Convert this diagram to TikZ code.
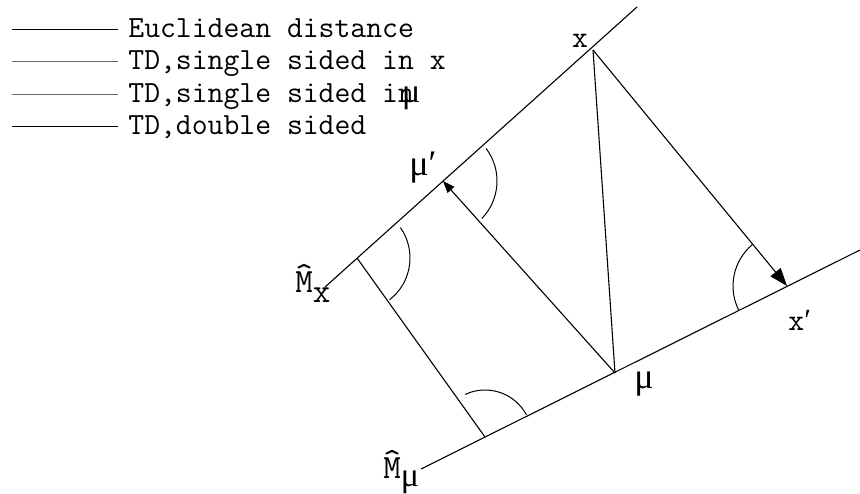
\documentclass[tikz,border=0pt]{standalone}
\usepackage{fontspec}
\newfontfamily\mufont{Liberation Serif}
\usetikzlibrary{arrows.meta, positioning}
\newcommand{\hatM}{\rlap{\raisebox{3.5pt}{\textasciicircum}}M}
\tikzset{
  >=Triangle,
  manifold/.style  = {line width=0.55pt},
  proj/.style      = {line width=0.55pt},
  bigarrow/.style  = {-{Triangle[length=9pt, width=6.5pt]}, line width=0.55pt},
  smallarrow/.style= {-{Triangle[length=6pt, width=4.5pt]}, line width=0.55pt},
  anglearc/.style  = {line width=0.5pt},
  legline/.style   = {line width=0.5pt},
  legtext/.style   = {anchor=base west, inner sep=0pt,
                      font=\fontsize{15.4}{18}\selectfont\ttfamily},
  lab/.style       = {anchor=base west, inner sep=0pt,
                      font=\fontsize{15.4}{18}\selectfont\ttfamily},
  mulab/.style     = {lab, font=\fontsize{18}{20}\selectfont\mufont},
  mlab/.style      = {lab, font=\fontsize{17}{20}\selectfont\ttfamily},
}

\begin{document}
\begin{tikzpicture}[x=0.5pt, y=-0.5pt]
  \useasboundingbox (0,0) rectangle (860,493);

  % Legend
  \foreach \y/\c [count=\i] in {29/black, 61/black!60, 94/black!60, 126/black} {
    \coordinate (la\i) at (12,\y);
    \coordinate (lb\i) at (118,\y);
    \draw[legline, \c] (la\i) -- (lb\i);
  }
  \node[legtext] (t1) at (128,37)  {Euclidean distance};
  \node[legtext] (t2) at (128,69)  {TD,single sided in x};
  \node[legtext] (t3) at (128,102) {TD,single sided i\rlap{n}\kern2pt{\fontsize{17}{18}\selectfont\mufont μ}};
  \node[legtext] (t4) at (128,134) {TD,double sided};

  % Manifolds and points
  \coordinate (mxa) at (325,287);
  \coordinate (mxb) at (637,7);
  \coordinate (mma) at (421,469);
  \coordinate (mmb) at (860,250);
  \coordinate (x)   at (593,50);
  \coordinate (xp)  at (787,286);
  \coordinate (mu)  at (615,373);
  \coordinate (mup) at (443,181);
  \coordinate (pa)  at (357,258);
  \coordinate (pb)  at (485,437);

  \draw[manifold] (mxa) -- (mxb);
  \draw[manifold] (mma) -- (mmb);

  % Projections
  \draw[proj] (x) -- (mu);
  \draw[bigarrow] (x) -- (xp);
  \draw[smallarrow] (mu) -- (mup);
  \draw[proj] (pa) -- (pb);

  % Angle marks
  \draw[anglearc] (mup) ++(-37:54) arc[start angle=-37, end angle=44, radius=54];
  \draw[anglearc] (pa)  ++(-35:53) arc[start angle=-35, end angle=52, radius=53];
  \draw[anglearc] (pb)  ++(-115:47) arc[start angle=-115, end angle=-28, radius=47];
  \draw[anglearc] (xp)  ++(153:54) arc[start angle=153, end angle=230, radius=54];

  % Labels
  \node[lab, anchor=base] (xl)  at (580,47)  {x};
  \node[lab] (xpl)   at (788,330) {x{\mufont ′}};
  \node[mulab] (mupl) at (409,175) {μ′};
  \node[mulab] (mul)  at (634,388) {μ};
  \node[mlab] (mxl) at (295,292) {\hatM\raisebox{-5pt}{x}};
  \node[mlab] (mml) at (383,478) {\hatM\raisebox{-4pt}{\mufont μ}};
\end{tikzpicture}
\end{document}
